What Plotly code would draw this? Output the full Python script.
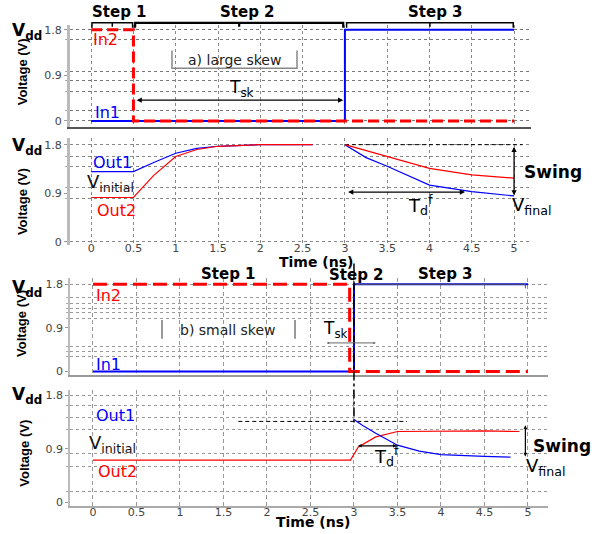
import plotly.graph_objects as go

W, H = 602, 534
FONT = "DejaVu Sans"
RED = "#ff0000"
BLUE = "#0000ff"

# ---------------- data ----------------
time_ticks = [0, 0.5, 1, 1.5, 2, 2.5, 3, 3.5, 4, 4.5, 5]
time_labels = ["0", "0.5", "1", "1.5", "2", "2.5", "3", "3.5", "4", "4.5", "5"]
volt_ticks = [0, 0.9, 1.8]
volt_labels = ["0", "0.9", "1.8"]

# a) large skew : inputs
t_in2_a = [0.0, 0.5, 0.5, 5.0]
v_in2_a = [1.8, 1.8, 0.0, 0.0]
t_in1_a = [0.0, 3.0, 3.0, 5.0]
v_in1_a = [0.0, 0.0, 1.8, 1.8]
# a) outputs
t_out_a = [0.0, 0.5, 0.74, 1.0, 1.25, 1.5, 2.0, 2.62]
v_out1_a = [1.3, 1.3, 1.47, 1.64, 1.73, 1.77, 1.8, 1.8]
v_out2_a = [0.82, 0.82, 1.23, 1.58, 1.71, 1.77, 1.8, 1.8]
t_dec_a = [3.0, 3.25, 3.5, 4.0, 4.5, 5.0]
v_out1_dec_a = [1.8, 1.56, 1.40, 1.05, 0.93, 0.85]
v_out2_dec_a = [1.8, 1.69, 1.58, 1.36, 1.24, 1.18]
t_ref_a = [3.0, 5.1]
v_ref_a = [1.8, 1.8]

# b) small skew : inputs
t_in2_b = [0.0, 2.95, 2.95, 5.0]
v_in2_b = [1.8, 1.8, 0.0, 0.0]
t_in1_b = [0.0, 3.0, 3.0, 5.0]
v_in1_b = [0.0, 0.0, 1.8, 1.8]
# b) outputs
t_out2_b = [0.0, 2.96, 3.05, 3.25, 3.5, 4.0, 4.5, 4.9]
v_out2_b = [0.71, 0.71, 0.93, 1.10, 1.19, 1.20, 1.20, 1.19]
t_out1_b = [3.0, 3.1, 3.25, 3.5, 3.75, 4.0, 4.5, 4.8]
v_out1_b = [1.39, 1.29, 1.16, 0.96, 0.86, 0.80, 0.77, 0.76]
t_ref_b = [1.67, 3.61]
v_ref_b = [1.36, 1.36]

# horizontal grid levels of each panel
grid_a_in = [0, 0.2, 0.59, 0.8, 0.98, 1.6, 1.8]
grid_a_out = [0.001, 0.8, 1.0, 1.4, 1.58, 1.799]
grid_b_in = [0.31, 0.41, 0.51, 1.1, 1.21, 1.31, 1.41, 1.52, 1.799]
grid_b_out = [0.18, 0.6, 0.82, 1.23, 1.43, 1.63, 1.799]


def px(x):
    return x / W


def py(y):
    return 1 - y / H


fig = go.Figure()


def trace(xs, ys, n, color, width, dash="solid"):
    fig.add_trace(go.Scatter(
        x=xs, y=ys, mode="lines", xaxis="x" + n, yaxis="y" + n,
        line=dict(color=color, width=width, dash=dash),
        showlegend=False, hoverinfo="skip"))


# panel 1
trace(t_in1_a, v_in1_a, "", BLUE, 2)
trace(t_in2_a, v_in2_a, "", RED, 3, "11px,5px")
# panel 2
trace(t_ref_a, v_ref_a, "2", "black", 1, "4px,3px")
trace(t_out_a, v_out1_a, "2", BLUE, 1.2)
trace(t_out_a, v_out2_a, "2", RED, 1.2)
trace(t_dec_a, v_out1_dec_a, "2", BLUE, 1.2)
trace(t_dec_a, v_out2_dec_a, "2", RED, 1.2)
# panel 3
trace(t_in1_b, v_in1_b, "3", BLUE, 2)
trace(t_in2_b, v_in2_b, "3", RED, 3, "14px,6px")
# panel 4
trace(t_ref_b, v_ref_b, "4", "black", 1, "4px,3px")
trace(t_out2_b, v_out2_b, "4", RED, 1.2)
trace(t_out1_b, v_out1_b, "4", BLUE, 1.2)

tickfont = dict(family=FONT, size=11, color="#444")


def xaxis(dom, rng, anchor, labels, gridcolor, griddash, showline, linecolor="#555", linewidth=1):
    return dict(domain=dom, range=rng, anchor=anchor, tickvals=time_ticks, ticktext=time_labels,
                showticklabels=labels, showgrid=True, gridcolor=gridcolor, griddash=griddash,
                gridwidth=1, zeroline=False, ticks="", tickfont=tickfont, ticklabelstandoff=-5,
                showline=showline, linecolor=linecolor, linewidth=linewidth)


def yaxis(dom, rng, anchor, grid, gridcolor, linewidth):
    return dict(domain=dom, range=rng, anchor=anchor, tickvals=volt_ticks, ticktext=volt_labels,
                showgrid=False, zeroline=False, tickfont=tickfont, ticks="outside", ticklen=3,
                tickcolor="#999",
                minor=dict(tickvals=grid, showgrid=True, gridcolor=gridcolor, griddash="dot",
                           gridwidth=1, ticks="outside", ticklen=2, tickcolor="#aaa"),
                showline=True, linecolor="#bbbbbb", linewidth=linewidth)


fig.update_layout(
    width=W, height=H, margin=dict(l=0, r=0, t=0, b=0),
    paper_bgcolor="white", plot_bgcolor="white",
    xaxis=xaxis([px(70), px(531)], [-0.25, 5.2], "y", False, "#888", "dot", True, "#555", 2),
    yaxis=yaxis([py(127), py(24)], [-0.117, 1.898], "x", grid_a_in, "#777", 3),
    xaxis2=xaxis([px(70), px(531)], [-0.25, 5.2], "y2", True, "#888", "dot", False),
    yaxis2=yaxis([py(246), py(138)], [-0.055, 1.929], "x2", grid_a_out, "#888", 3),
    xaxis3=xaxis([px(70), px(548)], [-0.264, 5.23], "y3", False, "#999", "4px,3px", True, "#999", 1.5),
    yaxis3=yaxis([py(378), py(280)], [-0.082, 1.923], "x3", grid_b_in, "#999", 1.5),
    xaxis4=xaxis([px(70), px(548)], [-0.264, 5.23], "y4", True, "#999", "4px,3px", True, "#aaa", 1.5),
    yaxis4=yaxis([py(510), py(393)], [-0.067, 1.883], "x4", grid_b_out, "#999", 1.5),
)


def text(s, x, y, size=14, color="black", bold=False, family=FONT, angle=0):
    if bold:
        s = "<b>" + s + "</b>"
    fig.add_annotation(text=s, x=px(x), y=py(y), xref="paper", yref="paper",
                       showarrow=False, xanchor="center", yanchor="middle", textangle=angle,
                       font=dict(family=family, size=size, color=color))


def arrow(n, x0, y0, x1, y1, color="black", width=1.3, size=0.8):
    xr, yr = "x" + n, "y" + n
    fig.add_annotation(x=x1, y=y1, ax=x0, ay=y0, xref=xr, yref=yr, axref=xr, ayref=yr,
                       text="", showarrow=True, arrowhead=2, startarrowhead=2,
                       arrowside="end+start", arrowsize=size, startarrowsize=size,
                       arrowwidth=width, arrowcolor=color, standoff=0, startstandoff=0)


# ---- panel 1 annotations ----
text("Step 1", 119, 11, 15, bold=True)
text("Step 2", 247, 11, 15, bold=True)
text("Step 3", 435, 11, 15, bold=True)
text("V<sub>dd</sub>", 27, 31, 17, bold=True)
text("Voltage (V)", 22, 72, 13, bold=True, family="Liberation Sans", angle=-90)
text("In2", 106, 39, 16, RED)
text("In1", 107, 113, 16, BLUE)
text("a) large skew", 234, 60, 14, "#222")
text("T<sub>sk</sub>", 241, 88, 17)
arrow("", 0.52, 0.41, 2.98, 0.41)

yt, yb = py(22), py(27)
for (a, b, w) in [(0.01, 0.49, 1.5), (0.52, 2.98, 2.2), (3.02, 4.99, 1.5)]:
    m = (a + b) / 2
    fig.add_shape(type="path", xref="x", yref="paper",
                  path=f"M {a},{yb} L {a},{yt} L {b},{yt} L {b},{yb} M {m},{yt} L {m},{py(26)}",
                  line=dict(color="black", width=w))
# box around "a) large skew"
fig.add_shape(type="path", xref="paper", yref="paper",
              path=f"M {px(172)},{py(50)} L {px(172)},{py(68)} L {px(297)},{py(68)} L {px(297)},{py(50)}",
              line=dict(color="#888", width=1.5))

# ---- panel 2 annotations ----
text("V<sub>dd</sub>", 27, 147, 17, bold=True)
text("Voltage (V)", 22, 203, 13, bold=True, family="Liberation Sans", angle=-90)
text("Out1", 112, 163, 16, BLUE)
text("V<sub>initial</sub>", 110, 184, 18, "#111")
text("Out2", 116, 211, 16, RED)
text("T<sub>d</sub><sup>f</sup>", 420, 206, 18)
text("Swing", 553, 173, 17, bold=True)
text("V<sub>final</sub>", 531, 207, 18)
text("Time (ns)", 316, 263, 14, bold=True)
arrow("2", 3.02, 0.92, 4.42, 0.92)
arrow("2", 5.0, 1.79, 5.0, 0.86)

# ---- panel 3 annotations ----
text("Step 1", 228, 276, 15, bold=True)
text("Step 2", 356, 277, 15, bold=True)
text("Step 3", 445, 276, 15, bold=True)
text("V<sub>dd</sub>", 27, 290, 17, bold=True)
text("Voltage (V)", 22, 326, 13, bold=True, family="Liberation Sans", angle=-90)
text("In2", 108, 297, 16, RED)
text("In1", 108, 367, 16, BLUE)
text("b) small skew", 228, 332, 14, "#222")
text("T<sub>sk</sub>", 335, 332, 17)
arrow("3", 2.67, 0.59, 3.25, 0.59, "#666", 1, 0.5)
for xb in (162, 295):
    fig.add_shape(type="line", xref="paper", yref="paper", x0=px(xb), x1=px(xb),
                  y0=py(322), y1=py(341), line=dict(color="#777", width=1.5))
fig.add_shape(type="line", xref="x3", yref="paper", x0=3.0, x1=3.0, y0=py(265), y1=py(428),
              line=dict(color="black", width=1.5, dash="dashdot"))
fig.add_shape(type="path", xref="x3", yref="paper",
              path=f"M 3.02,{py(286)} L 4.97,{py(286)} L 4.97,{py(290)}",
              line=dict(color="#555", width=1))

# ---- panel 4 annotations ----
text("V<sub>dd</sub>", 27, 398, 17, bold=True)
text("Voltage (V)", 25, 457, 13, bold=True, family="Liberation Sans", angle=-90)
text("Out1", 115, 418, 16, BLUE)
text("V<sub>initial</sub>", 112, 447, 18, "#111")
text("Out2", 117, 475, 16, RED)
text("T<sub>d</sub><sup>f</sup>", 386, 459, 18)
text("Swing", 562, 449, 17, bold=True)
text("V<sub>final</sub>", 545, 470, 18)
text("Time (ns)", 313, 526, 14, bold=True)
arrow("4", 3.03, 0.95, 3.49, 0.95, "black", 1.2, 0.6)
arrow("4", 4.97, 1.32, 4.97, 0.77, "black", 1.2, 0.6)

fig.write_html("out.html", config={"displayModeBar": False},
               post_script="document.body.style.margin='0';document.body.style.overflow='hidden';")
